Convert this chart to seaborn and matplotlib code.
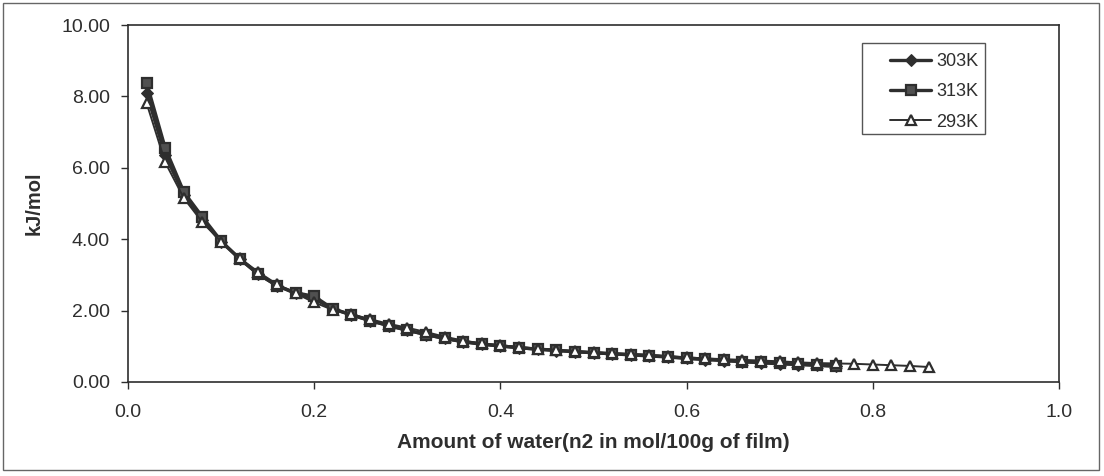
import numpy as np
import pandas as pd
import seaborn as sns
import matplotlib
matplotlib.use("Agg")
import matplotlib.pyplot as plt
from matplotlib.patches import Rectangle

# Water content (mol / 100 g of film)
x_303 = [round(0.02 * i, 2) for i in range(1, 39)]
x_313 = [round(0.02 * i, 2) for i in range(1, 39)]
x_293 = [round(0.02 * i, 2) for i in range(1, 44)]

# Differential heat, kJ/mol
y_303 = [8.09, 6.35, 5.25, 4.55, 3.93, 3.45, 3.02, 2.70, 2.48, 2.33,
         2.05, 1.88, 1.72, 1.58, 1.45, 1.33, 1.22, 1.13, 1.06, 1.01,
         0.96, 0.92, 0.88, 0.85, 0.82, 0.79, 0.76, 0.73, 0.70, 0.66,
         0.63, 0.60, 0.57, 0.54, 0.51, 0.49, 0.47, 0.44]
y_313 = [8.38, 6.55, 5.32, 4.62, 3.95, 3.45, 3.02, 2.70, 2.50, 2.40,
         2.05, 1.88, 1.72, 1.58, 1.45, 1.33, 1.22, 1.13, 1.06, 1.01,
         0.96, 0.92, 0.89, 0.85, 0.82, 0.79, 0.77, 0.74, 0.71, 0.67,
         0.64, 0.61, 0.57, 0.55, 0.52, 0.50, 0.47, 0.45]
y_293 = [7.81, 6.15, 5.15, 4.47, 3.93, 3.47, 3.08, 2.74, 2.48, 2.23,
         2.02, 1.90, 1.76, 1.63, 1.52, 1.40, 1.27, 1.16, 1.08, 1.03,
         0.98, 0.93, 0.90, 0.86, 0.83, 0.80, 0.78, 0.76, 0.72, 0.69,
         0.66, 0.64, 0.62, 0.60, 0.58, 0.55, 0.53, 0.52, 0.51, 0.49,
         0.47, 0.45, 0.42]

series_labels = ["303K", "313K", "293K"]
x_ticks = [0.0, 0.2, 0.4, 0.6, 0.8, 1.0]
y_ticks = [0, 2, 4, 6, 8, 10]

sns.set_theme(style="white")
plt.rcParams["font.family"] = ["Liberation Sans", "DejaVu Sans"]

INK = "#2e2e2e"

W, H = 1104, 476
fig = plt.figure(figsize=(W / 100, H / 100), dpi=100)
ax = fig.add_axes([128 / W, 1 - 382 / H, (1059 - 128) / W, (382 - 25) / H])

sns.lineplot(x=x_303, y=y_303, ax=ax, color=INK, linewidth=2.4,
             marker="D", markersize=6, markerfacecolor=INK,
             markeredgecolor=INK, label=series_labels[0])
sns.lineplot(x=x_313, y=y_313, ax=ax, color=INK, linewidth=2.4,
             marker="s", markersize=7.5, markerfacecolor="#505050",
             markeredgecolor=INK, markeredgewidth=1.6, label=series_labels[1])
sns.lineplot(x=x_293, y=y_293, ax=ax, color=INK, linewidth=1.4,
             marker="^", markersize=7.5, markerfacecolor="white",
             markeredgecolor=INK, markeredgewidth=1.6, label=series_labels[2])

ax.set_xlim(0, 1.0)
ax.set_ylim(0, 10)
ax.set_xticks(x_ticks)
ax.set_xticklabels([f"{v:.1f}" for v in x_ticks])
ax.set_yticks(y_ticks)
ax.set_yticklabels([f"{v:.2f}" for v in y_ticks])
ax.tick_params(axis="both", which="major", direction="out", length=5,
               width=1, color=INK, labelsize=14, labelcolor=INK,
               bottom=True, left=True)
ax.tick_params(axis="y", pad=8)
ax.tick_params(axis="x", pad=11)

for side in ["left", "bottom", "top", "right"]:
    ax.spines[side].set_visible(True)
    ax.spines[side].set_color(INK)
    ax.spines[side].set_linewidth(1.2)

ax.set_xlabel("Amount of water(n2 in mol/100g of film)", fontsize=15,
              fontweight="bold", color=INK)
ax.xaxis.set_label_coords(0.5, -(433 - 382) / 357, transform=ax.transAxes)
ax.set_ylabel("kJ/mol", fontsize=14.5, fontweight="bold", color=INK)
ax.yaxis.set_label_coords(-(128 - 44) / 931, 0.5, transform=ax.transAxes)

# Legend entries, with a separate box drawn around them
leg = ax.legend(loc="upper right",
                bbox_to_anchor=((978 - 128) / 931, (382 - 53) / 357),
                borderaxespad=0, borderpad=0, frameon=False, fontsize=13,
                handlelength=2.3, labelspacing=0.74, handletextpad=0.25,
                labelcolor=INK)
ax.add_patch(Rectangle(((862 - 128) / 931, (382 - 134) / 357),
                       (985 - 862) / 931, (134 - 43) / 357,
                       transform=ax.transAxes, fill=False,
                       edgecolor="#555555", linewidth=1.0, zorder=5))

# Thin border around the whole figure
fig.patches.append(Rectangle((3 / W, 6 / H), 1096 / W, 467 / H,
                             transform=fig.transFigure, fill=False,
                             edgecolor="#666666", linewidth=1.0))

fig.savefig("out.png", dpi=100)
